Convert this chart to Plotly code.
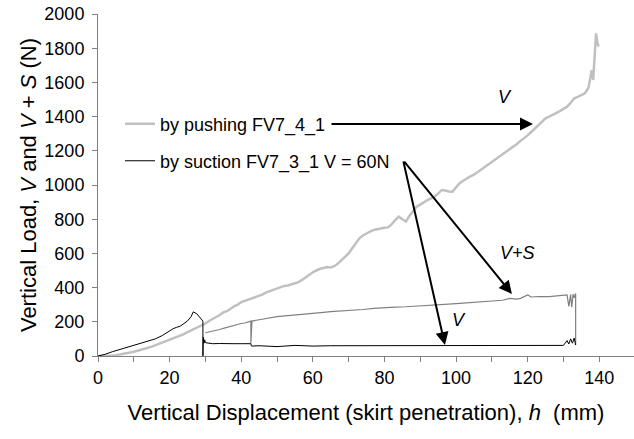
import plotly.graph_objects as go

# ---------------- data ----------------
push_x = [0,1,2,3,4,5,6,7,8,9,10,11,12,13,14,15,16,17,18,19,20,21,22,23,24,25,26,27,28,29,
          30,31,32,33,34,35,36,37,38,39,40,41,42,43,44,45,46,47,48,49,50,51,52,53,54,55,56,57,58,59,
          60,61,62,63,64,65,66,67,68,69,70,71,72,73,74,75,76,77,78,79,80,81,82,83,84,85,86,87,88,89,
          90,91,92,93,94,95,96,97,98,99,100,101,102,103,104,105,106,107,108,109,110,111,112,113,114,
          115,116,117,118,119,120,121,122,123,124,125,126,127,128,129,130,131,132,133,134,135,136,137,
          137.4,137.9,138.3,138.8,139.1,139.5,139.8]
push_y = [0,0,1,2,3,5,8,11,15,20,25,30,36,42,48,55,63,70,78,86,95,102,110,120,128,140,150,158,170,180,
          190,205,215,228,240,255,262,278,290,300,315,322,330,335,342,350,360,372,380,388,395,400,410,412,418,
          425,432,445,460,478,490,500,510,515,520,518,525,540,560,580,600,630,660,688,705,718,728,737,742,745,
          750,752,770,795,815,800,786,820,850,873,885,900,912,922,932,950,971,968,962,961,985,1010,1025,1040,
          1050,1060,1075,1090,1105,1118,1130,1148,1165,1180,1195,1210,1225,1240,1258,1273,1290,1310,1330,1350,
          1370,1390,1400,1410,1420,1432,1445,1458,1480,1507,1515,1525,1536,1570,1614,1672,1614,1789,1887,1829,1809]

suc_v_x = [0,2,4,6,8,10,12,14,16,18,20,21,22,23,24,25,26,26.6,27.6,28.5,29.3,29.3,29.4,29.6,29.8,
           30,32,34,36,38,40,42,42.7,42.8,43,45,50,55,60,65,70,75,80,85,90,95,100,105,110,115,120,
           125,128,130,131,131.5,132,132.5,133,133.4]
suc_v_y = [0,10,25,38,50,62,75,88,100,120,150,160,168,175,190,205,230,258,247,225,204,0,110,75,95,
           78,72,73,71,72,72,71,72,60,58,60,55,62,58,60,60,58,60,62,58,60,60,58,60,62,59,
           60,60,62,90,70,100,75,105,64]

suc_vs_x = [30,31,32,33,34,35,36,37,38,39,40,41,42,42.7,42.7,42.8,43,45,47,50,53,56,60,63,65,68,71,74,
            77,80,83,86,90,93,96,99,101,104,107,110,113,115,117,118,120,121,123,126,128,130,131,131.5,
            132,132.3,132.7,133,133.4,133.4]
suc_vs_y = [136,140,145,150,155,162,168,172,178,184,190,193,198,204,75,200,204,212,220,230,236,243,250,
            255,259,262,268,272,278,283,286,288,292,298,300,305,308,312,318,322,326,337,333,337,357,345,
            348,347,352,355,357,290,360,285,362,340,366,64]

push_name = "by pushing FV7_4_1"
suc_name = "by suction FV7_3_1 V = 60N"

FONT = "Liberation Sans, Arial, sans-serif"
AX = "#808080"

fig = go.Figure()
fig.add_trace(go.Scatter(x=push_x, y=push_y, mode="lines", name=push_name,
                         line=dict(color="#c0c0c0", width=2.5), legend="legend"))
fig.add_trace(go.Scatter(x=suc_vs_x, y=suc_vs_y, mode="lines", showlegend=False,
                         line=dict(color="#808080", width=1.2)))
fig.add_trace(go.Scatter(x=suc_v_x, y=suc_v_y, mode="lines", name=suc_name,
                         line=dict(color="#000000", width=1), legend="legend2"))

# arrows and labels
arrows = [
    dict(x=121.5, y=1357, ax=64.8, ay=1357),
    dict(x=96.9, y=64, ax=85.2, ay=1146),
    dict(x=115.6, y=363, ax=85.2, ay=1146),
]
for a in arrows:
    fig.add_annotation(x=a["x"], y=a["y"], ax=a["ax"], ay=a["ay"], xref="x", yref="y",
                       axref="x", ayref="y", text="", showarrow=True, arrowhead=2,
                       arrowsize=1.3, arrowwidth=2, arrowcolor="#000000")

labels = [("<i>V</i>", 113.7, 1515), ("<i>V+S</i>", 117.3, 602), ("<i>V</i>", 100.8, 211)]
for t, x, y in labels:
    fig.add_annotation(x=x, y=y, xref="x", yref="y", text=t, showarrow=False,
                       font=dict(family=FONT, size=18, color="#000000"))

fig.update_layout(
    width=634, height=439,
    margin=dict(l=98, r=0, t=14, b=83),
    paper_bgcolor="white", plot_bgcolor="white",
    font=dict(family=FONT, size=18, color="#000000"),
    legend=dict(x=0.041, y=0.678, xanchor="left", yanchor="middle",
                bgcolor="rgba(0,0,0,0)", font=dict(size=18)),
    legend2=dict(x=0.041, y=0.570, xanchor="left", yanchor="middle",
                 bgcolor="rgba(0,0,0,0)", font=dict(size=18)),
    xaxis=dict(range=[0, 149.7], dtick=20, tick0=0, showgrid=False, zeroline=False,
               showline=True, linecolor=AX, linewidth=1, ticks="outside", ticklen=5,
               tickcolor=AX, tickfont=dict(size=18),
               minor=dict(dtick=10, ticks="outside", ticklen=5, tickcolor=AX),
               title=dict(text="Vertical Displacement (skirt penetration), <i>h</i>  (mm)",
                          font=dict(size=22), standoff=18)),
    yaxis=dict(range=[0, 2000], dtick=200, showgrid=False, zeroline=False,
               showline=True, linecolor=AX, linewidth=1, ticks="outside", ticklen=5,
               tickcolor=AX, tickfont=dict(size=18), ticklabelstandoff=4,
               title=dict(text="Vertical Load, <i>V</i> and <i>V</i> + <i>S</i> (N)",
                          font=dict(size=22), standoff=1)),
)

fig.write_html("out.html")
